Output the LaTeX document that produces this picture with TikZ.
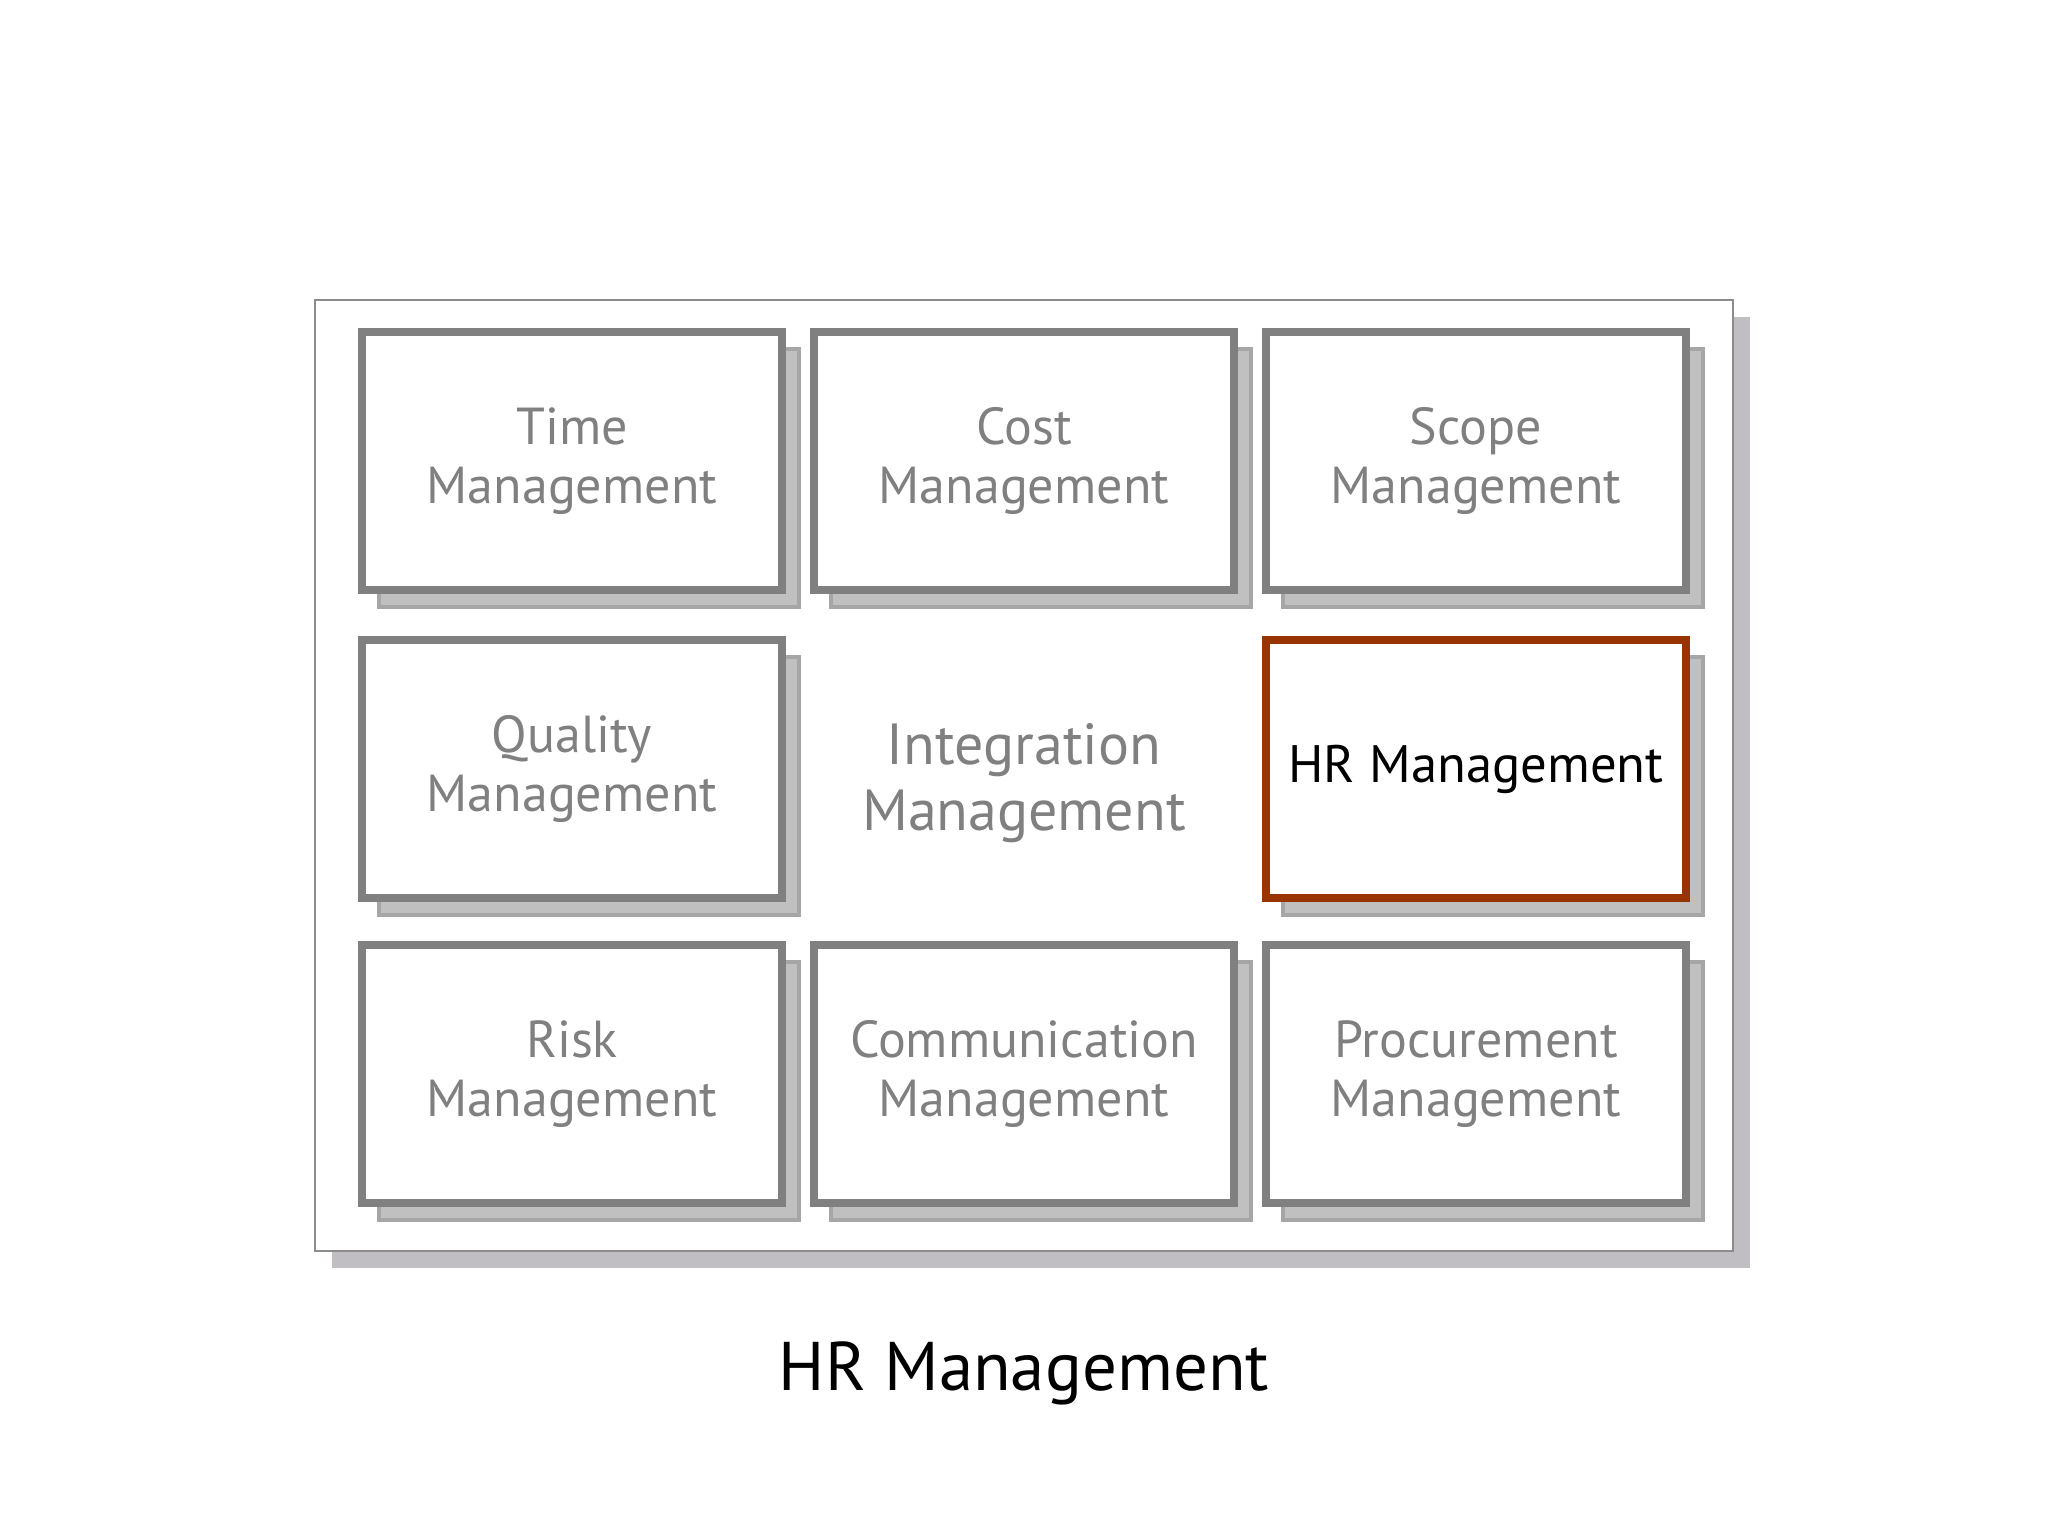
\documentclass[tikz,border=0pt]{standalone}
\usepackage{fontspec}
\setmainfont{PT Sans}
\definecolor{boxgray}{HTML}{808080}
\definecolor{backgray}{HTML}{C0C0C0}
\definecolor{backline}{HTML}{A6A6A6}
\definecolor{hrred}{HTML}{993300}
\definecolor{framegray}{HTML}{8C8C8C}
\definecolor{framesh}{HTML}{C0BEC2}
\begin{document}
\begin{tikzpicture}[
    main/.style = {draw=boxgray, line width=2.3pt, fill=white, minimum width=4.2cm, minimum height=2.58cm,
                   align=center, text=boxgray, font=\fontsize{14.8}{16.9}\selectfont},
    back/.style = {draw=backline, line width=0.9pt, fill=backgray, minimum width=4.2cm, minimum height=2.58cm}]
    \useasboundingbox (0,0) rectangle (20.48,-15.36);
    \fill[white] (0,0) rectangle (20.48,-15.36);

    % outer frame
    \node[fill=framesh, minimum width=14.18cm, minimum height=9.51cm, inner sep=0pt] (fsh) at (10.41,-7.925) {};
    \node[draw=framegray, line width=0.6pt, fill=white, minimum width=14.18cm, minimum height=9.51cm, inner sep=0pt] (frame) at (10.24,-7.755) {};

    % shadows
    \node[back] (tsh) at (5.89,-4.78) {};
    \node[back] (csh) at (10.41,-4.78) {};
    \node[back] (ssh) at (14.93,-4.78) {};
    \node[back] (qsh) at (5.89,-7.86) {};
    \node[back] (hsh) at (14.93,-7.86) {};
    \node[back] (rsh) at (5.89,-10.91) {};
    \node[back] (msh) at (10.41,-10.91) {};
    \node[back] (psh) at (14.93,-10.91) {};

    % boxes
    \node[main] (time) at (5.72,-4.61) {Time\\Management};
    \node[main] (cost) at (10.24,-4.61) {Cost\\Management};
    \node[main] (scope) at (14.76,-4.61) {Scope\\Management};
    \node[main] (qual) at (5.72,-7.69) {Quality\\Management};
    \node[align=center, text=boxgray, font=\fontsize{16.5}{18.6}\selectfont] (integ) at (10.24,-7.83) {Integration\\Management};
    \node[main, draw=hrred, text=black, font=\fontsize{15}{18}\selectfont] (hr) at (14.76,-7.69) {HR Management};
    \node[main] (risk) at (5.72,-10.74) {Risk\\Management};
    \node[main] (comm) at (10.24,-10.74) {Communication\\Management};
    \node[main] (proc) at (14.76,-10.74) {Procurement\\Management};

    % caption
    \node[font=\fontsize{19.6}{24}\selectfont] (title) at (10.24,-13.73) {HR Management};
\end{tikzpicture}
\end{document}
